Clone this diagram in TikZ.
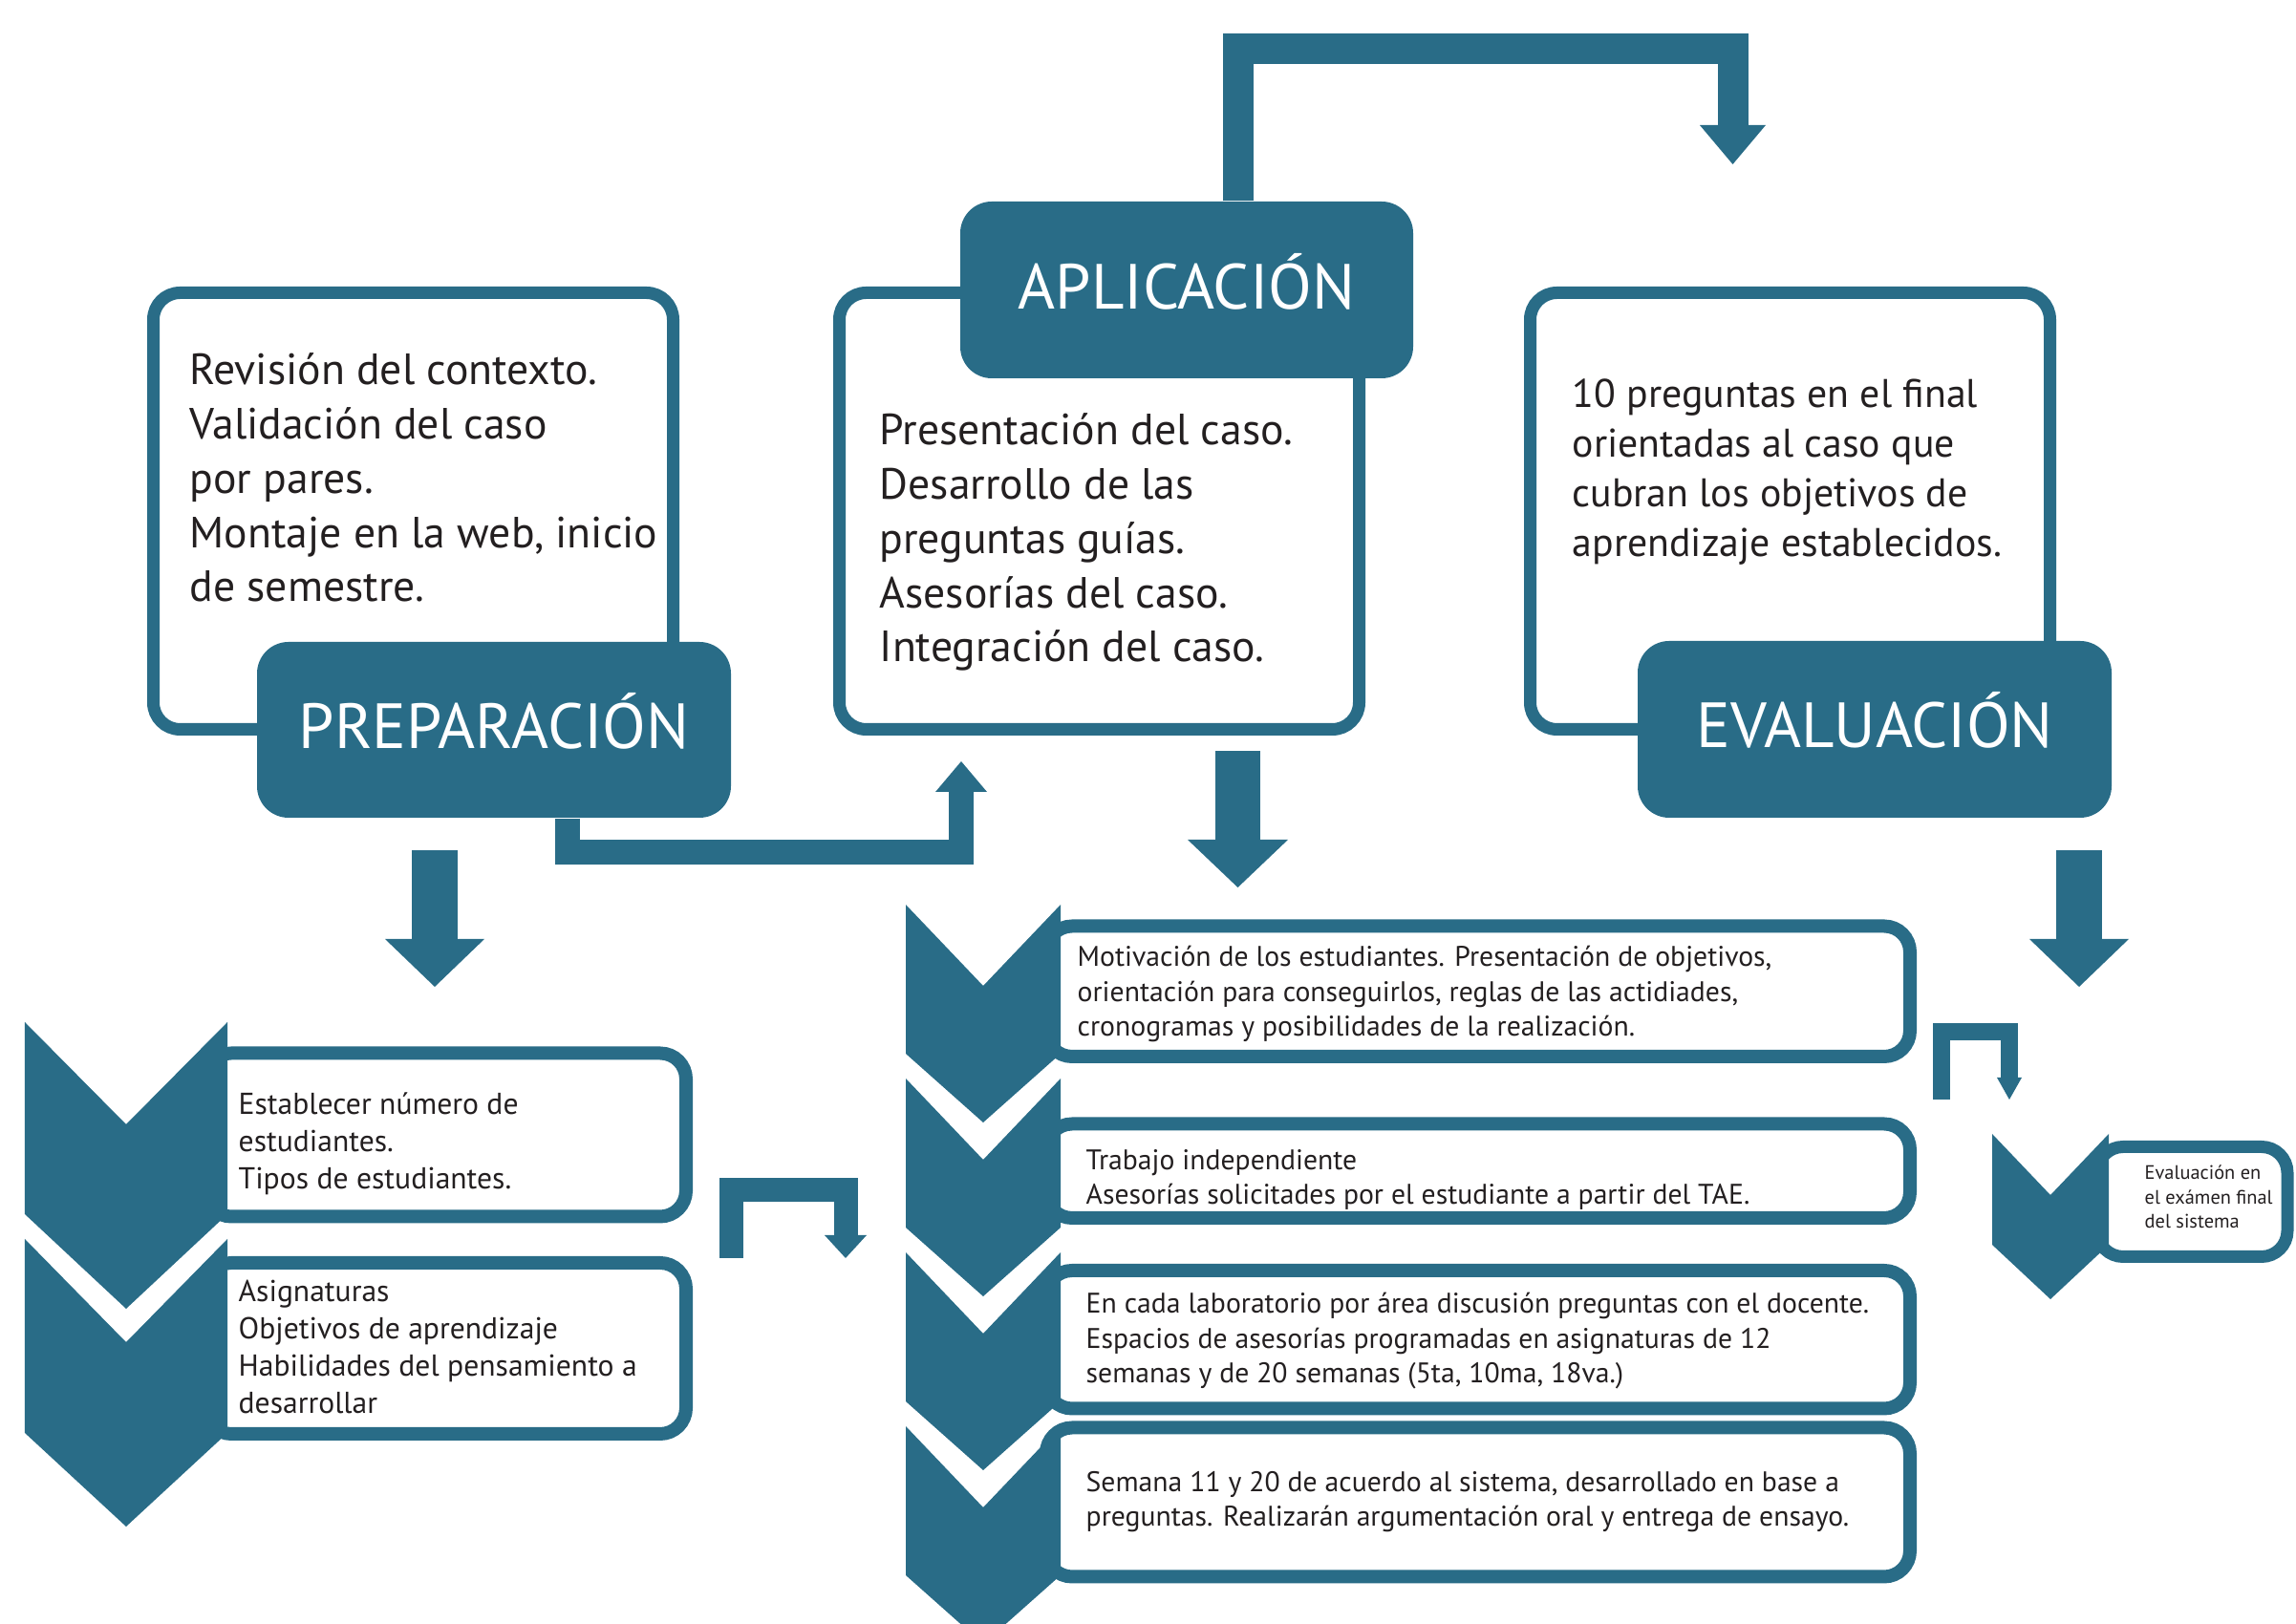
\documentclass[tikz,border=0pt]{standalone}
\usepackage{fontspec}
\setmainfont{PT Sans}
\usepackage{xcolor}
\usetikzlibrary{arrows.meta}
\definecolor{casoblue}{RGB}{41,108,135}
\definecolor{casoink}{RGB}{35,31,32}

\begin{document}
\begin{tikzpicture}[
    outlinebox/.style={rectangle, draw=casoblue, fill=white, line width=0.13cm,
        rounded corners=0.28cm, inner sep=0pt},
    listbox/.style={rectangle, draw=casoblue, fill=white, line width=0.14cm,
        rounded corners=0.27cm, inner sep=0pt},
    titlebox/.style={rectangle, fill=casoblue, rounded corners=0.33cm, inner sep=0pt},
    titletext/.style={anchor=base, inner sep=0pt, text=white,
        font=\fontsize{19}{23}\selectfont},
    bigtext/.style={anchor=base west, inner sep=0pt, align=left, text=casoink,
        font=\fontsize{13}{16.2}\selectfont},
    listtext/.style={anchor=base west, inner sep=0pt, align=left, text=casoink,
        font=\fontsize{9}{11.1}\selectfont},
    chevron/.style={fill=casoblue},
    flow/.style={draw=casoblue, line width=#1},
    ]

    \useasboundingbox (0,0) rectangle (24.03,17);

    %phase boxes
    \node[outlinebox,
          minimum width = 5.44cm,
          minimum height = 4.57cm
          ] (prepbox) at (4.325,11.65) {};
    \node[outlinebox,
          minimum width = 5.44cm,
          minimum height = 4.57cm
          ] (aplbox) at (11.505,11.65) {};
    \node[outlinebox,
          minimum width = 5.44cm,
          minimum height = 4.57cm
          ] (evalbox) at (18.735,11.65) {};

    %phase titles
    \node[titlebox,
          minimum width = 4.96cm,
          minimum height = 1.84cm
          ] (preptitle) at (5.17,9.36) {};
    \node[titlebox,
          minimum width = 4.74cm,
          minimum height = 1.85cm
          ] (apltitle) at (12.42,13.965) {};
    \node[titlebox,
          minimum width = 4.96cm,
          minimum height = 1.85cm
          ] (evaltitle) at (19.62,9.365) {};

    \node[titletext] at ([yshift=-0.195cm]preptitle.center) {PREPARACIÓN};
    \node[titletext] at ([yshift=-0.205cm]apltitle.center) {APLICACIÓN};
    \node[titletext] at ([yshift=-0.195cm]evaltitle.center) {EVALUACIÓN};

    %phase texts (anchored at the last baseline)
    \node[bigtext] at (1.98,10.70) {Revisión del contexto.\\Validación del caso\\por pares.\\Montaje en la web, inicio\\de semestre.};
    \node[bigtext] at (9.20,10.07) {Presentación del caso.\\Desarrollo de las\\preguntas guías.\\Asesorías del caso.\\Integración del caso.};
    \node[bigtext, font=\fontsize{11.9}{14.8}\selectfont] at (16.45,11.17) {10 preguntas en el final\\orientadas al caso que\\cubran los objetivos de\\aprendizaje establecidos.};

    %preparation steps
    \node[listbox,
          minimum width = 5.03cm,
          minimum height = 1.71cm
          ] (prepA) at (4.665,5.12) {};
    \node[listbox,
          minimum width = 5.03cm,
          minimum height = 1.79cm
          ] (prepB) at (4.665,2.885) {};

    %application steps
    \node[listbox,
          minimum width = 9.04cm,
          minimum height = 1.365cm
          ] (aplA) at (15.47,6.6225) {};
    \node[listbox,
          minimum width = 9.04cm,
          minimum height = 0.985cm
          ] (aplB) at (15.47,4.7425) {};
    \node[listbox,
          minimum width = 9.04cm,
          minimum height = 1.445cm
          ] (aplC) at (15.47,2.9775) {};
    \node[listbox,
          minimum width = 9.04cm,
          minimum height = 1.56cm
          ] (aplD) at (15.47,1.275) {};

    %evaluation step
    \node[listbox,
          line width = 0.13cm,
          minimum width = 1.99cm,
          minimum height = 1.15cm
          ] (evalA) at (22.945,4.42) {};

    %chevrons
    \fill[chevron] (0.26,6.30) -- (1.32,5.23) -- (2.38,6.30) -- (2.38,4.29) -- (1.32,3.30) -- (0.26,4.29) -- cycle;
    \fill[chevron] (0.26,4.03) -- (1.32,2.95) -- (2.38,4.03) -- (2.38,2.00) -- (1.32,1.02) -- (0.26,2.00) -- cycle;
    \foreach \t in {7.53,5.71,3.89,2.07}
        \fill[chevron] (9.48,\t) -- (10.29,\t-0.85) -- (11.10,\t) -- (11.10,\t-1.56) -- (10.29,\t-2.28) -- (9.48,\t-1.56) -- cycle;
    \fill[chevron] (20.85,5.13) -- (21.46,4.49) -- (22.07,5.13) -- (22.07,3.97) -- (21.46,3.40) -- (20.85,3.97) -- cycle;

    %step texts (anchored at the last baseline)
    \node[listtext] at (2.49,4.55) {Establecer número de\\estudiantes.\\Tipos de estudiantes.};
    \node[listtext] at (2.49,2.20) {Asignaturas\\Objetivos de aprendizaje\\Habilidades del pensamiento a\\desarrollar};
    \node[listtext, font=\fontsize{8.45}{10.5}\selectfont] at (11.27,6.15) {Motivación de los estudiantes. Presentación de objetivos,\\orientación para conseguirlos, reglas de las actidiades,\\cronogramas y posibilidades de la realización.};
    \node[listtext, font=\fontsize{8.45}{10.5}\selectfont] at (11.36,4.39) {Trabajo independiente\\Asesorías solicitades por el estudiante a partir del TAE.};
    \node[listtext, font=\fontsize{8.45}{10.5}\selectfont] at (11.36,2.52) {En cada laboratorio por área discusión preguntas con el docente.\\Espacios de asesorías programadas en asignaturas de 12\\semanas y de 20 semanas (5ta, 10ma, 18va.)};
    \node[listtext, font=\fontsize{8.45}{10.5}\selectfont] at (11.36,1.02) {Semana 11 y 20 de acuerdo al sistema, desarrollado en base a\\preguntas. Realizarán argumentación oral y entrega de ensayo.};
    \node[listtext, font=\fontsize{5.8}{7.3}\selectfont] at (22.44,4.14) {Evaluación en\\el exámen final\\del sistema};

    %arrow ends
    \coordinate (evaltop) at (18.135,15.28);
    \coordinate (aplbottom) at (10.06,9.03);
    \coordinate (aplstart) at (12.955,9.14);
    \coordinate (aplend) at (12.955,7.71);
    \coordinate (prepstart) at (4.55,8.10);
    \coordinate (prepend) at (4.55,6.67);
    \coordinate (evalstart) at (21.76,8.10);
    \coordinate (evalend) at (21.76,6.67);
    \coordinate (gapLstart) at (7.65,3.83);
    \coordinate (gapLend) at (8.85,3.83);
    \coordinate (gapRstart) at (20.32,5.49);
    \coordinate (gapRend) at (21.03,5.49);

    %arrows
    \draw[flow=0.32cm, -{Triangle[width=0.69cm, length=0.41cm, line width=0pt]}]
        ([xshift=0.535cm]apltitle.north) -- ++(0,1.59) -| (evaltop);
    \draw[flow=0.26cm, -{Triangle[width=0.54cm, length=0.32cm, line width=0pt]}]
        ([xshift=0.765cm]preptitle.south) -- ++(0,-0.355) -| (aplbottom);
    \draw[flow=0.47cm, -{Triangle[width=1.05cm, length=0.50cm, line width=0pt]}]
        (aplstart) -- (aplend);
    \draw[flow=0.48cm, -{Triangle[width=1.04cm, length=0.50cm, line width=0pt]}]
        (prepstart) -- (prepend);
    \draw[flow=0.48cm, -{Triangle[width=1.04cm, length=0.50cm, line width=0pt]}]
        (evalstart) -- (evalend);
    \draw[flow=0.25cm, -{Triangle[width=0.44cm, length=0.24cm, line width=0pt]}]
        (gapLstart) -- ++(0,0.715) -| (gapLend);
    \draw[flow=0.18cm, -{Triangle[width=0.26cm, length=0.23cm, line width=0pt]}]
        (gapRstart) -- ++(0,0.705) -| (gapRend);

\end{tikzpicture}
\end{document}
